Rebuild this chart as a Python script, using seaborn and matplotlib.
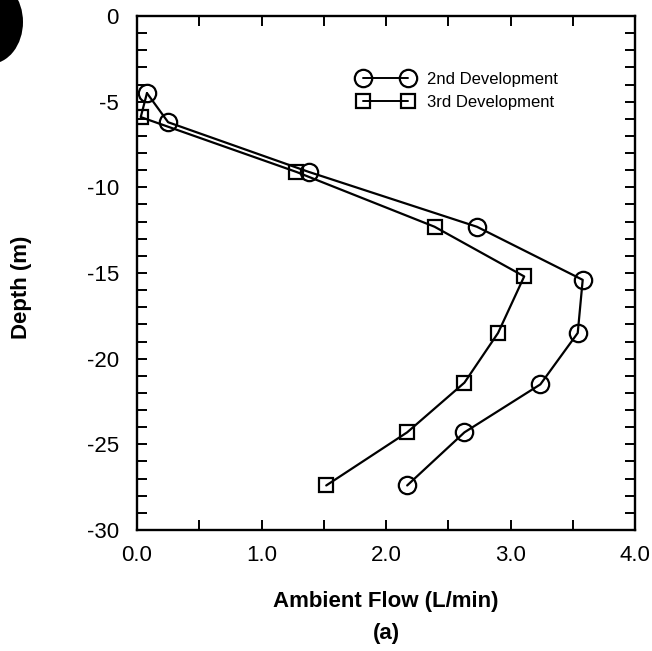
import matplotlib
matplotlib.use("Agg")
import matplotlib.pyplot as plt
from matplotlib.lines import Line2D
from matplotlib.patches import Ellipse
from matplotlib.ticker import MultipleLocator, FormatStrFormatter
import seaborn as sns
import pandas as pd

# Ambient flow profiles measured during well development
depth_2nd = [-4.5, -6.2, -9.1, -12.3, -15.4, -18.5, -21.5, -24.3, -27.4]
flow_2nd = [0.08, 0.25, 1.38, 2.73, 3.58, 3.54, 3.24, 2.63, 2.17]

depth_3rd = [-5.9, -9.1, -12.3, -15.2, -18.5, -21.4, -24.3, -27.4]
flow_3rd = [0.03, 1.28, 2.39, 3.11, 2.90, 2.63, 2.17, 1.52]

series_names = ["2nd Development", "3rd Development"]
x_ticks = [0.0, 1.0, 2.0, 3.0, 4.0]
y_ticks = [0, -5, -10, -15, -20, -25, -30]

sns.set_theme(style="ticks")
plt.rcParams["font.family"] = ["Liberation Sans", "DejaVu Sans"]
plt.rcParams["axes.unicode_minus"] = False
plt.rcParams["text.color"] = "black"
plt.rcParams["xtick.color"] = "black"
plt.rcParams["ytick.color"] = "black"

W, H = 652, 651
fig = plt.figure(figsize=(W / 100, H / 100), dpi=100)
ax = fig.add_axes([137 / W, 1 - 530 / H, 498 / W, 514 / H])

# the 3rd-development trace starts from the shallowest 2nd-development reading
path_3rd = pd.DataFrame({
    "flow": [flow_2nd[0]] + flow_3rd,
    "depth": [depth_2nd[0]] + depth_3rd,
})
df_2nd = pd.DataFrame({"flow": flow_2nd, "depth": depth_2nd})

line_kw = dict(color="black", linewidth=1.6, sort=False, estimator=None,
               markerfacecolor="none", markeredgecolor="black",
               markeredgewidth=1.6)
sns.lineplot(data=df_2nd, x="flow", y="depth", marker="o", markersize=12.5,
             ax=ax, **line_kw)
sns.lineplot(data=path_3rd, x="flow", y="depth", marker="s", markersize=10,
             markevery=list(range(1, len(path_3rd))), ax=ax, **line_kw)

ax.set_xlim(0, 4)
ax.set_ylim(-30, 0)
ax.set_xticks(x_ticks)
ax.set_yticks(y_ticks)
ax.xaxis.set_major_formatter(FormatStrFormatter("%.1f"))
ax.xaxis.set_minor_locator(MultipleLocator(0.5))
ax.yaxis.set_minor_locator(MultipleLocator(1))
ax.tick_params(which="both", direction="in", length=7, width=1.4,
               top=True, right=True, colors="black")
ax.tick_params(axis="x", which="major", labelsize=16, pad=11)
ax.tick_params(axis="y", which="major", labelsize=16, pad=13)
for sp in ax.spines.values():
    sp.set_visible(True)
    sp.set_linewidth(1.7)
    sp.set_color("black")
ax.set_xlabel("")
ax.set_ylabel("")

handles = [
    Line2D([], [], color="black", linewidth=1.4, marker="o", markersize=12.5,
           markerfacecolor="none", markeredgecolor="black", markeredgewidth=1.6),
    Line2D([], [], color="black", linewidth=1.4, marker="s", markersize=10,
           markerfacecolor="none", markeredgecolor="black", markeredgewidth=1.6),
]
ax.legend(handles, series_names, loc="center left",
          bbox_to_anchor=(358 / W, 1 - 91 / H), bbox_transform=fig.transFigure,
          frameon=False, numpoints=2, handlelength=3.3, handletextpad=0.85,
          labelspacing=0.45, borderpad=0, borderaxespad=0,
          prop={"size": 12})

fig.text(386 / W, 1 - 601 / H, "Ambient Flow (L/min)", ha="center", va="center",
         fontsize=16, fontweight="bold")
fig.text(386 / W, 1 - 634 / H, "(a)", ha="center", va="center",
         fontsize=16, fontweight="bold")
fig.text(22 / W, 1 - 287 / H, "Depth (m)", ha="center", va="center",
         rotation=90, fontsize=16, fontweight="bold")

# binding hole at the top-left corner of the page
fig.patches.append(Ellipse((-10 / W, 1 - 22 / H), 66 / W, 84 / H,
                           transform=fig.transFigure, facecolor="black",
                           edgecolor="none"))

fig.savefig("out.png", dpi=100, facecolor="white")
